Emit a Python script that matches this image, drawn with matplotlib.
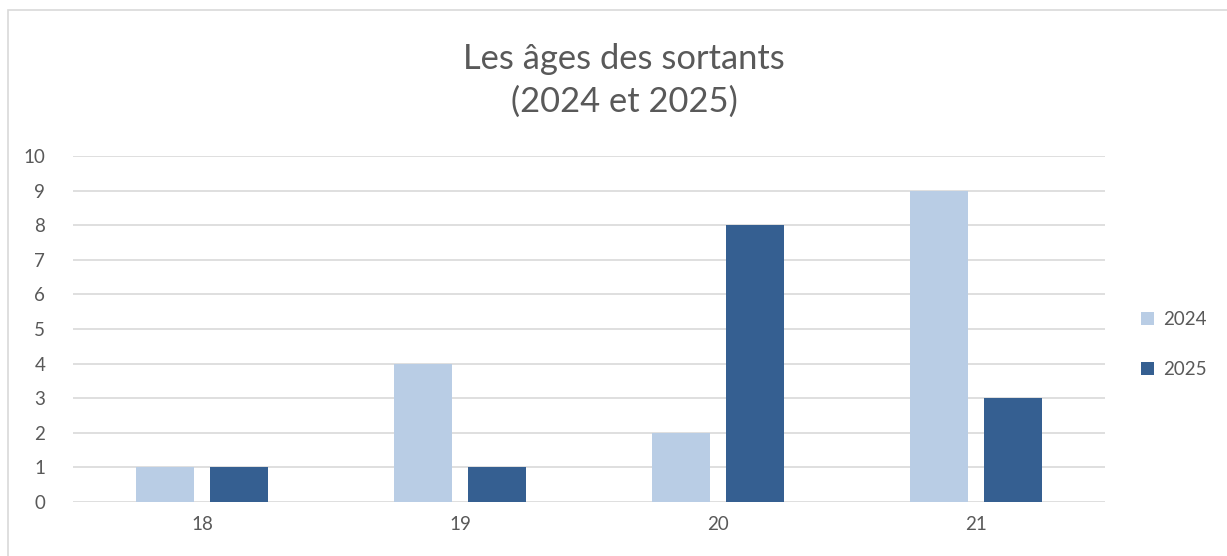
import matplotlib.pyplot as plt
import numpy as np
from matplotlib.patches import Rectangle

ages = ["18", "19", "20", "21"]
v2024 = [1, 4, 2, 9]
v2025 = [1, 1, 8, 3]
series = ["2024", "2025"]

c2024 = "#b9cde5"
c2025 = "#355f91"
grey = "#595959"

plt.rcParams['font.family'] = ['Lato', 'DejaVu Sans']

fig = plt.figure(figsize=(12.27, 5.56), dpi=100)
fig.patches.append(Rectangle((8 / 1227, -0.1), 1.2, 1 - 10 / 556 + 0.1,
                             transform=fig.transFigure, fill=False,
                             edgecolor="#d9d9d9", linewidth=1.2))

ax = fig.add_axes([73 / 1227, 1 - 502 / 556, (1105 - 73) / 1227, (502 - 156) / 556])

x = np.arange(len(ages))
w = 0.225
ax.bar(x - 0.142, v2024, w, color=c2024, label=series[0], zorder=3)
ax.bar(x + 0.142, v2025, w, color=c2025, label=series[1], zorder=3)

ax.set_xlim(-0.5, 3.5)
ax.set_ylim(0, 10)
ax.set_yticks(range(0, 11))
ax.set_xticks(x)
ax.set_xticklabels(ages)
ax.grid(axis="y", color="#d9d9d9", linewidth=1.2, zorder=0)
for s in ax.spines.values():
    s.set_visible(False)
ax.tick_params(length=0, labelsize=13.5, labelcolor=grey)
ax.tick_params(axis="y", pad=20)
ax.tick_params(axis="x", pad=10)

fig.text(0.5085, 0.855, "Les âges des sortants\n(2024 et 2025)", ha="center", va="center",
         fontsize=24.8, color=grey, linespacing=1.4)

ax.legend(loc="center left", bbox_to_anchor=(1.019, 0.455), frameon=False,
          fontsize=13.5, labelcolor=grey, handlelength=0.65, handleheight=0.65,
          labelspacing=1.75, handletextpad=0.5)

fig.savefig("out.png", dpi=100)
